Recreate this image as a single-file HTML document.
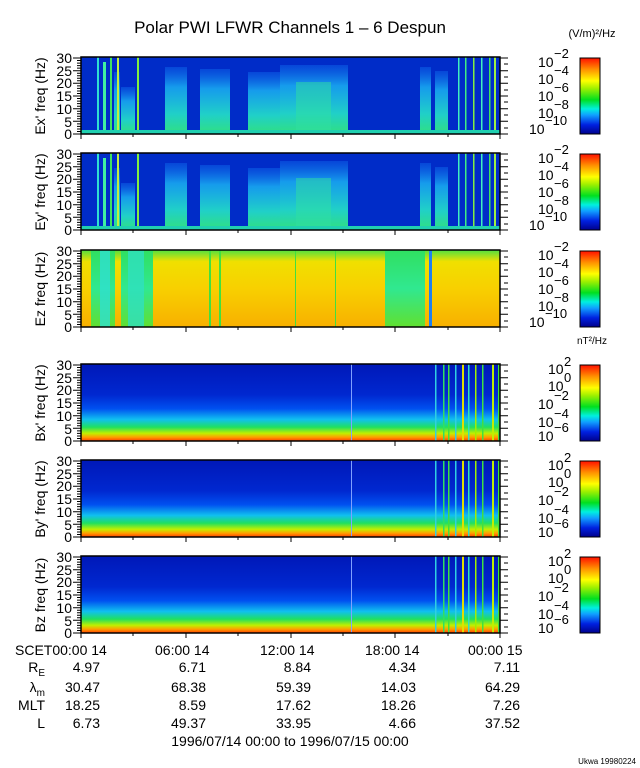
<!DOCTYPE html>
<html><head><meta charset="utf-8"><style>
html,body{margin:0;padding:0;background:#fff;}
svg{display:block;font-family:"Liberation Sans",sans-serif;}
</style></head><body>
<svg width="640" height="768" viewBox="0 0 640 768" xmlns="http://www.w3.org/2000/svg">
<defs>
<linearGradient id="cb" x1="0" y1="1" x2="0" y2="0">
<stop offset="0" stop-color="#00008c"/><stop offset="0.12" stop-color="#0020e0"/>
<stop offset="0.25" stop-color="#10a0ff"/><stop offset="0.33" stop-color="#00f0e0"/>
<stop offset="0.45" stop-color="#00e020"/><stop offset="0.6" stop-color="#a0f000"/>
<stop offset="0.7" stop-color="#ffff00"/><stop offset="0.85" stop-color="#ff9000"/>
<stop offset="1" stop-color="#ff1000"/></linearGradient>
<linearGradient id="act" x1="0" y1="1" x2="0" y2="0">
<stop offset="0" stop-color="#30e080"/><stop offset="0.3" stop-color="#20d0c8"/>
<stop offset="0.7" stop-color="#18a8f0" stop-opacity="0.9"/><stop offset="1" stop-color="#1070f0" stop-opacity="0.4"/></linearGradient>
<linearGradient id="bg" x1="0" y1="1" x2="0" y2="0">
<stop offset="0" stop-color="#ff4000"/><stop offset="0.05" stop-color="#ffa000"/>
<stop offset="0.1" stop-color="#c0f000"/><stop offset="0.18" stop-color="#20e060"/>
<stop offset="0.28" stop-color="#10c0f0"/><stop offset="0.42" stop-color="#0050f0"/>
<stop offset="0.6" stop-color="#0028d0"/><stop offset="1" stop-color="#0018b8"/></linearGradient>
<linearGradient id="ezbg" x1="0" y1="1" x2="0" y2="0">
<stop offset="0" stop-color="#f8b000"/><stop offset="0.5" stop-color="#f8d000"/>
<stop offset="0.85" stop-color="#f0e000"/><stop offset="1" stop-color="#50e040"/></linearGradient>
<linearGradient id="ezg" x1="0" y1="1" x2="0" y2="0">
<stop offset="0" stop-color="#60e030"/><stop offset="0.5" stop-color="#30e890"/><stop offset="1" stop-color="#30e060"/></linearGradient>
<g id="eact">
<rect x="16" y="0" width="2" height="77" fill="#30e0d0"/><rect x="22" y="5" width="3" height="72" fill="#40f0a0"/>
<rect x="29" y="0" width="2" height="77" fill="#40e060"/><rect x="33" y="15" width="6" height="62" fill="url(#act)"/>
<rect x="36" y="0" width="2" height="77" fill="#c0f040"/><rect x="40" y="30" width="14" height="47" fill="url(#act)"/>
<rect x="56" y="0" width="2" height="77" fill="#80f040"/>
<rect x="84" y="10" width="22" height="67" fill="url(#act)"/>
<rect x="119" y="12" width="30" height="65" fill="url(#act)"/>
<rect x="167" y="15" width="32" height="62" fill="url(#act)"/>
<rect x="199" y="8" width="68" height="69" fill="url(#act)"/>
<rect x="215" y="25" width="35" height="52" fill="#30e0a0" opacity="0.5"/>
<rect x="339" y="10" width="11" height="67" fill="url(#act)"/>
<rect x="354" y="14" width="13" height="63" fill="url(#act)"/>
<rect x="377" y="0" width="1.5" height="77" fill="#40f0c0"/><rect x="384" y="0" width="1.5" height="77" fill="#40f080"/>
<rect x="392" y="0" width="1.5" height="77" fill="#80f040"/><rect x="400" y="0" width="1.5" height="77" fill="#40f0c0"/>
<rect x="408" y="0" width="1.5" height="77" fill="#40e060"/><rect x="413" y="0" width="2" height="77" fill="#a0f040"/>
<rect x="0" y="73" width="419" height="4" fill="#20d0b0"/>
</g>
<g id="bstr">
<rect x="354" y="0" width="1.5" height="77" fill="#30d0e0"/><rect x="362" y="0" width="1.5" height="77" fill="#30e060"/>
<rect x="367" y="0" width="1.5" height="77" fill="#40e040"/><rect x="374" y="0" width="1.5" height="77" fill="#30d0e0"/>
<rect x="381" y="0" width="2" height="77" fill="#e0e000"/><rect x="387" y="0" width="1.5" height="77" fill="#30e0c0"/>
<rect x="394" y="0" width="1.5" height="77" fill="#a0f000"/><rect x="401" y="0" width="1.5" height="77" fill="#40e040"/>
<rect x="411" y="0" width="2" height="77" fill="#c0f000"/><rect x="417" y="0" width="2" height="77" fill="#40e040"/>
<rect x="270" y="0" width="1" height="77" fill="#80a0ff"/>
</g>
<g id="yt" font-size="14" text-anchor="end" fill="#000">
<text x="-9" y="5">0</text><text x="-9" y="-7">5</text><text x="-9" y="-20">10</text><text x="-9" y="-33">15</text><text x="-9" y="-46">20</text><text x="-9" y="-58">25</text><text x="-9" y="-71">30</text>
<path d="M0 0H-8M0 -12.7H-8M0 -25.3H-8M0 -38H-8M0 -50.7H-8M0 -63.3H-8M0 -76H-8" stroke="#000"/>
<path d="M0 -2.5H-4M0 -5H-4M0 -7.6H-4M0 -10.1H-4M0 -15.2H-4M0 -17.7H-4M0 -20.3H-4M0 -22.8H-4M0 -27.8H-4M0 -30.4H-4M0 -32.9H-4M0 -35.5H-4M0 -40.5H-4M0 -43H-4M0 -45.6H-4M0 -48.1H-4M0 -53.2H-4M0 -55.7H-4M0 -58.3H-4M0 -60.8H-4M0 -65.9H-4M0 -68.4H-4M0 -70.9H-4M0 -73.5H-4" stroke="#000"/>
</g>
<g id="rt"><path d="M0 0H-8M0 -12.7H-8M0 -25.3H-8M0 -38H-8M0 -50.7H-8M0 -63.3H-8M0 -76H-8M0 -6H-4M0 -19H-4M0 -32H-4M0 -44H-4M0 -57H-4M0 -70H-4" stroke="#000"/></g>
<g id="bt"><path d="M0 0V5M105 0V5M210 0V5M314 0V5M419 0V5M52 0V3M157 0V3M262 0V3M367 0V3" stroke="#000"/></g>
</defs>

<text x="290" y="33" font-size="17" text-anchor="middle">Polar PWI LFWR Channels 1 – 6 Despun</text>
<text x="592" y="37" font-size="11" text-anchor="middle">(V/m)²/Hz</text>
<text x="592" y="344" font-size="10" text-anchor="middle">nT²/Hz</text>

<g transform="translate(81,57)"><rect width="419" height="77" fill="#002cc8"/><use href="#eact"/></g>
<g transform="translate(81,153)"><rect width="419" height="77" fill="#002cc8"/><use href="#eact"/></g>
<g transform="translate(81,250)"><rect width="419" height="77" fill="url(#ezbg)"/>
<rect x="10" y="0" width="24" height="77" fill="url(#ezg)"/><rect x="19" y="0" width="10" height="77" fill="#30e0d0" opacity="0.8"/>
<rect x="40" y="0" width="32" height="77" fill="url(#ezg)"/><rect x="47" y="0" width="16" height="77" fill="#30e0c0" opacity="0.8"/>
<rect x="304" y="0" width="40" height="77" fill="url(#ezg)"/><rect x="348" y="0" width="3" height="77" fill="#2080f0"/>
<rect x="128" y="0" width="2" height="77" fill="#40e040"/><rect x="138" y="0" width="2" height="77" fill="#40e040"/>
<rect x="214" y="0" width="1" height="77" fill="#40e040"/><rect x="254" y="0" width="1" height="77" fill="#40e040"/>
</g>
<g transform="translate(81,364)"><rect width="419" height="77" fill="url(#bg)"/><use href="#bstr"/></g>
<g transform="translate(81,460)"><rect width="419" height="77" fill="url(#bg)"/><use href="#bstr"/></g>
<g transform="translate(81,556)"><rect width="419" height="77" fill="url(#bg)"/><use href="#bstr"/></g>

<g fill="none" stroke="#000" stroke-width="1.5">
<rect x="81" y="57" width="419" height="77"/><rect x="81" y="153" width="419" height="77"/><rect x="81" y="250" width="419" height="77"/>
<rect x="81" y="364" width="419" height="77"/><rect x="81" y="460" width="419" height="77"/><rect x="81" y="556" width="419" height="77"/>
</g>
<use href="#yt" x="81" y="134"/><use href="#yt" x="81" y="230"/><use href="#yt" x="81" y="327"/>
<use href="#yt" x="81" y="441"/><use href="#yt" x="81" y="537"/><use href="#yt" x="81" y="633"/>
<use href="#rt" x="508" y="134"/><use href="#rt" x="508" y="230"/><use href="#rt" x="508" y="327"/>
<use href="#rt" x="508" y="441"/><use href="#rt" x="508" y="537"/><use href="#rt" x="508" y="633"/>
<use href="#bt" x="81" y="134"/><use href="#bt" x="81" y="230"/><use href="#bt" x="81" y="327"/>
<use href="#bt" x="81" y="441"/><use href="#bt" x="81" y="537"/><use href="#bt" x="81" y="633"/>

<g font-size="14" text-anchor="middle">
<text transform="translate(45,96) rotate(-90)">Ex' freq (Hz)</text>
<text transform="translate(45,192) rotate(-90)">Ey' freq (Hz)</text>
<text transform="translate(45,289) rotate(-90)">Ez freq (Hz)</text>
<text transform="translate(45,403) rotate(-90)">Bx' freq (Hz)</text>
<text transform="translate(45,499) rotate(-90)">By' freq (Hz)</text>
<text transform="translate(45,595) rotate(-90)">Bz freq (Hz)</text>
</g>

<g stroke="#000" stroke-width="1">
<rect x="580" y="58" width="20" height="76" fill="url(#cb)"/><rect x="580" y="154" width="20" height="76" fill="url(#cb)"/>
<rect x="580" y="251" width="20" height="76" fill="url(#cb)"/><rect x="580" y="365" width="20" height="76" fill="url(#cb)"/>
<rect x="580" y="461" width="20" height="76" fill="url(#cb)"/><rect x="580" y="557" width="20" height="76" fill="url(#cb)"/>
</g>
<g font-size="14" fill="#000">
<g id="ecb"><text x="538" y="67">10</text><text x="538" y="84">10</text><text x="538" y="101">10</text><text x="538" y="118">10</text><text x="529" y="134">10</text>
<g font-size="13"><text x="554" y="58">−2</text><text x="554" y="75">−4</text><text x="554" y="92">−6</text><text x="554" y="109">−8</text><text x="545" y="125">−10</text></g></g>
<use href="#ecb" y="96"/><use href="#ecb" y="193"/>
<g id="bcb"><text x="548" y="374">10</text><text x="548" y="391">10</text><text x="538" y="409">10</text><text x="538" y="427">10</text><text x="538" y="441">10</text>
<g font-size="13"><text x="564" y="366">2</text><text x="564" y="382">0</text><text x="554" y="400">−2</text><text x="554" y="418">−4</text><text x="554" y="432">−6</text></g></g>
<use href="#bcb" y="96"/><use href="#bcb" y="192"/>
</g>

<g font-size="14" fill="#000">
<text x="15" y="655">SCET00:00 14</text><text x="155" y="655">06:00 14</text><text x="260" y="655">12:00 14</text><text x="365" y="655">18:00 14</text><text x="468" y="655">00:00 15</text>
<text x="45" y="672" text-anchor="end">R<tspan font-size="10" dy="4">E</tspan></text>
<text x="45" y="692" text-anchor="end">λ<tspan font-size="10" dy="4">m</tspan></text>
<text x="45" y="710" text-anchor="end">MLT</text><text x="45" y="728" text-anchor="end">L</text>
<g text-anchor="end">
<text x="100" y="672">4.97</text><text x="100" y="692">30.47</text><text x="100" y="710">18.25</text><text x="100" y="728">6.73</text>
<text x="206" y="672">6.71</text><text x="206" y="692">68.38</text><text x="206" y="710">8.59</text><text x="206" y="728">49.37</text>
<text x="311" y="672">8.84</text><text x="311" y="692">59.39</text><text x="311" y="710">17.62</text><text x="311" y="728">33.95</text>
<text x="416" y="672">4.34</text><text x="416" y="692">14.03</text><text x="416" y="710">18.26</text><text x="416" y="728">4.66</text>
<text x="520" y="672">7.11</text><text x="520" y="692">64.29</text><text x="520" y="710">7.26</text><text x="520" y="728">37.52</text>
</g>
<text x="290" y="746" text-anchor="middle">1996/07/14 00:00 to 1996/07/15 00:00</text>
<text x="636" y="764" font-size="8" text-anchor="end">Ukwa 19980224</text>
</g>
</svg>
</body></html>
